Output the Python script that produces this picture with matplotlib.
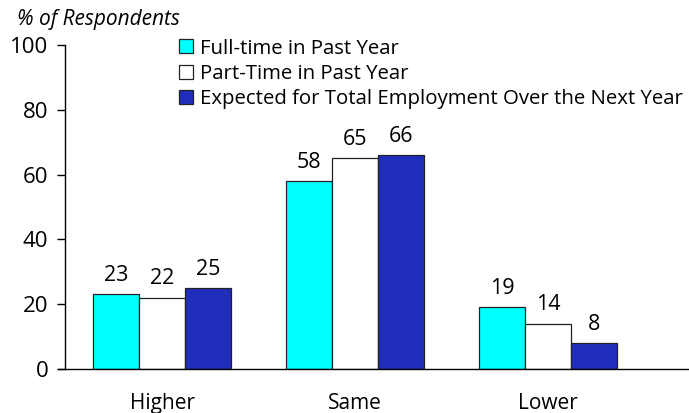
import numpy as np
import matplotlib
matplotlib.use("Agg")
import matplotlib.pyplot as plt

categories = ["Higher", "Same", "Lower"]
full_time = [23, 58, 19]
part_time = [22, 65, 14]
expected = [25, 66, 8]
series_names = ["Full-time in Past Year", "Part-Time in Past Year",
                "Expected for Total Employment Over the Next Year"]
y_ticks = [0, 20, 40, 60, 80, 100]

plt.rcParams['font.family'] = ['Open Sans', 'DejaVu Sans']

fig = plt.figure(figsize=(6.89, 4.13), dpi=100)
ax = fig.add_axes([65 / 689, 1 - 369 / 413, 624 / 689, 324 / 413])

x = np.arange(len(categories))
width = 0.238
colors = ["#00FFFF", "#FFFFFF", "#1F2EBD"]
for i, (vals, name, col) in enumerate(zip([full_time, part_time, expected], series_names, colors)):
    bars = ax.bar(x + (i - 1) * width, vals, width, color=col, edgecolor="#222222",
                  linewidth=0.9, label=name)
    for b, v in zip(bars, vals):
        ax.annotate(str(v), (b.get_x() + b.get_width() / 2, v), xytext=(0, 6),
                    textcoords="offset points", ha="center", va="bottom", fontsize=15.5)

ax.set_xlim(-0.503, 2.73)
ax.set_ylim(0, 100)
ax.set_yticks(y_ticks)
ax.set_xticks(x)
ax.set_xticklabels(categories)
ax.tick_params(axis="x", length=0, pad=17, labelsize=15)
ax.tick_params(axis="y", length=6, width=1, direction="out", pad=6, labelsize=16)
for s in ["top", "right"]:
    ax.spines[s].set_visible(False)
ax.spines["left"].set_linewidth(1)
ax.spines["bottom"].set_linewidth(1)
ax.spines["bottom"].set_bounds(-0.54, 2.73)

fig.text(17 / 689, 1 - 20 / 413, "% of Respondents", fontsize=15, style="italic",
         ha="left", va="center")

ax.legend(loc="upper left", bbox_to_anchor=(106 / 624, 1.045), frameon=False, fontsize=14.7,
          handlelength=0.68, handleheight=0.68, handletextpad=0.33, labelspacing=0.26,
          borderaxespad=0)

fig.savefig("out.png", dpi=100)
